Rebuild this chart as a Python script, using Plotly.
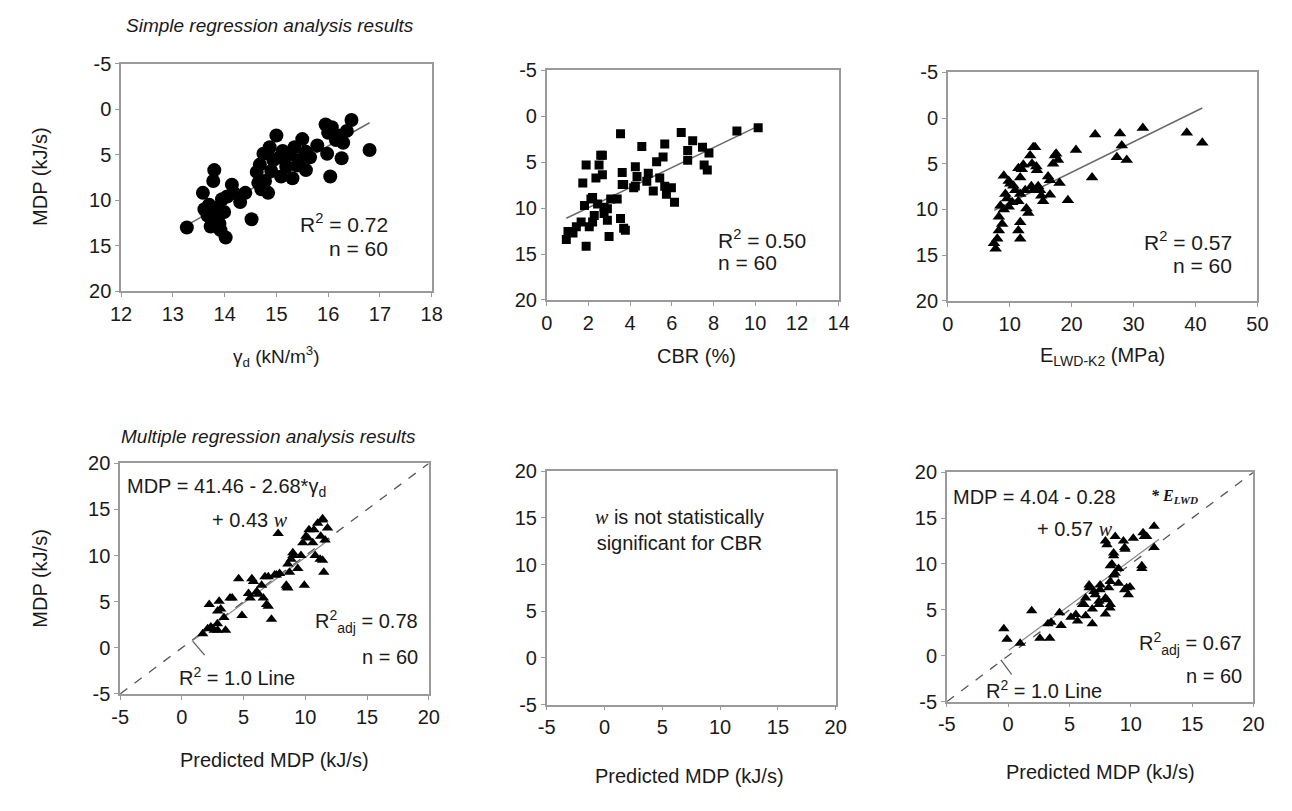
import plotly.graph_objects as go

W, H = 1292, 811

# ---------------- data ----------------
# Top-left: dry unit weight vs MDP
gamma_d = [13.27, 13.58, 13.80, 13.78, 13.61, 13.67, 13.73, 13.86, 14.02, 13.92, 13.99, 13.95, 14.14, 14.18,
           14.30, 14.40, 14.52, 14.62, 14.68, 14.71, 14.84, 14.87, 15.00, 14.94, 15.06, 15.09, 15.19, 15.31,
           15.35, 15.44, 15.50, 15.57, 15.57, 15.79, 15.95, 16.07, 15.98, 16.04, 16.20, 16.29, 16.26, 16.45,
           16.36, 16.80, 14.65, 14.75, 13.70, 13.75, 13.90, 13.85, 14.05, 14.78, 14.90, 15.12, 15.25, 15.40,
           15.65, 16.00, 16.15, 13.80]
mdp_gamma = [13.0, 9.2, 6.7, 7.9, 11.0, 11.7, 12.9, 12.0, 14.1, 13.3, 11.3, 9.9, 8.3, 9.2,
             10.2, 9.2, 12.1, 6.9, 6.1, 8.8, 9.2, 4.2, 2.9, 5.6, 5.3, 7.4, 6.3, 7.6,
             4.2, 5.6, 3.3, 4.7, 6.7, 4.0, 1.7, 2.0, 4.9, 7.4, 2.9, 3.7, 5.4, 1.2,
             2.4, 4.5, 8.1, 4.9, 10.5, 12.3, 12.6, 10.8, 9.6, 7.9, 6.8, 4.6, 5.0, 6.2,
             5.3, 2.6, 3.4, 11.5]
fit_gamma_x = [13.29, 16.80]
fit_gamma_y = [12.7, 1.5]

# Top-middle: CBR vs MDP
cbr = [3.54, 4.56, 5.66, 6.45, 7.00, 7.47, 7.78, 6.76, 7.55, 7.70, 9.12, 10.14, 2.67, 1.89, 2.51,
       2.67, 2.36, 1.73, 3.62, 4.25, 4.33, 3.69, 4.17, 4.87, 4.80, 5.27, 5.58, 5.42, 5.11, 5.66,
       5.98, 5.74, 6.13, 3.07, 3.38, 2.12, 1.81, 2.44, 2.91, 2.75, 2.91, 3.54, 3.69, 2.20, 2.04,
       1.42, 1.26, 0.94, 1.89, 2.99, 2.59, 3.62, 4.25, 2.20, 2.75, 2.28, 3.77, 1.65, 1.02, 6.76]
mdp_cbr = [1.89, 3.29, 3.02, 1.78, 2.66, 3.37, 4.00, 4.78, 5.30, 5.84, 1.60, 1.25, 4.25, 5.30, 5.30,
           6.37, 6.73, 7.26, 6.12, 5.49, 6.55, 7.43, 7.79, 6.20, 7.08, 4.96, 4.43, 6.73, 8.14, 7.61,
           7.79, 8.49, 9.37, 9.01, 9.01, 9.01, 9.72, 9.54, 10.07, 10.60, 11.31, 11.13, 12.19, 11.50, 12.02,
           12.02, 12.72, 13.43, 14.14, 13.08, 4.25, 7.43, 7.60, 8.85, 9.90, 10.80, 12.40, 11.50, 12.55, 3.72]
fit_cbr_x = [0.94, 10.14]
fit_cbr_y = [11.1, 1.07]

# Top-right: E_LWD-K2 vs MDP
elwd = [7.73, 7.46, 7.99, 8.25, 8.78, 9.05, 9.84, 9.57, 9.05, 10.1, 10.9, 11.7, 11.96, 11.4, 11.7,
        11.4, 11.7, 13.0, 12.5, 13.3, 13.6, 14.1, 14.4, 13.8, 14.9, 15.4, 16.5, 16.5, 17.0, 17.5,
        17.8, 18.05, 19.4, 20.7, 23.3, 23.8, 27.8, 28.1, 27.3, 28.9, 31.5, 38.6, 41.1, 9.84, 9.3,
        10.6, 11.4, 12.2, 13.8, 14.3, 13.5, 14.6, 15.1, 17.3, 16.2, 8.5, 10.4, 11.7, 8.25, 12.7]
mdp_elwd = [14.3, 13.7, 13.2, 12.3, 11.6, 10.0, 9.7, 8.8, 6.3, 7.2, 7.9, 6.5, 5.6, 9.1, 11.4,
            12.3, 13.2, 10.4, 7.9, 4.1, 5.0, 3.2, 5.7, 7.9, 7.9, 9.1, 8.4, 6.8, 5.0, 3.9,
            4.6, 7.1, 9.0, 3.5, 6.5, 1.8, 1.7, 3.0, 4.3, 4.6, 1.1, 1.6, 2.7, 6.9, 8.3,
            7.4, 5.5, 5.1, 3.2, 5.3, 7.45, 7.45, 8.5, 4.1, 6.4, 9.6, 9.2, 8.3, 10.8, 9.9]
fit_elwd_x = [7.5, 41.1]
fit_elwd_y = [10.1, -1.1]

# Bottom-left: predicted (gamma_d + w) vs measured MDP
pred_gamma = [1.69, 2.09, 2.22, 3.02, 3.15, 3.41, 3.54, 2.88, 2.62, 4.08, 4.6, 4.87, 5.67, 5.53, 6.07,
              6.46, 6.73, 6.6, 7.0, 7.26, 7.52, 7.92, 8.46, 8.59, 8.72, 8.85, 8.59, 8.99, 9.39, 9.92,
              9.65, 10.05, 10.3, 10.6, 11.0, 11.4, 11.8, 11.6, 10.8, 11.4, 11.5, 7.8, 11.25, 11.4, 10.7,
              10.2, 9.8, 9.0, 11.2, 8.5, 7.66, 7.0, 5.8, 5.4, 6.2, 6.86, 3.9, 2.9, 2.35, 2.9]
meas_gamma = [1.54, 2.07, 4.7, 5.05, 4.2, 3.3, 1.9, 2.6, 1.9, 5.4, 7.5, 3.5, 7.5, 5.4, 6.1,
              6.8, 7.7, 5.4, 4.5, 3.1, 7.9, 8.05, 6.8, 6.5, 8.2, 9.6, 9.1, 10.3, 8.6, 6.8,
              10.0, 12.1, 12.8, 11.4, 13.5, 14.0, 13.0, 11.7, 10.0, 9.5, 8.2, 12.4, 12.1, 13.85, 12.8,
              11.9, 11.4, 10.0, 9.6, 6.6, 7.9, 7.7, 7.2, 5.9, 5.8, 4.7, 5.4, 4.0, 2.25, 1.9]
fit_pg_x = [0.8, 12.0]
fit_pg_y = [0.7, 11.8]

# Bottom-right: predicted (E_LWD + w) vs measured MDP
pred_elwd = [-0.35, -0.09, 0.98, 1.92, 2.59, 3.39, 3.25, 4.19, 4.32, 5.12, 5.66, 6.32, 6.86, 6.6, 6.2,
             7.1, 7.5, 7.4, 8.06, 8.2, 8.3, 7.93, 8.73, 8.6, 8.33, 8.6, 9.0, 9.4, 9.53, 9.66,
             9.93, 9.8, 10.2, 10.9, 11.0, 11.3, 11.9, 11.9, 8.06, 9.5, 11.1, 10.9, 8.6, 8.46, 8.73,
             8.33, 9.0, 9.5, 6.6, 7.0, 7.5, 7.93, 8.33, 7.4, 6.32, 6.06, 6.86, 5.52, 3.5, 7.93]
meas_elwd = [2.94, 1.8, 1.36, 4.9, 1.9, 1.9, 3.5, 4.7, 3.3, 4.2, 3.8, 4.35, 3.5, 7.4, 5.6,
             6.65, 7.7, 5.6, 6.1, 7.4, 5.2, 12.5, 13.0, 11.2, 9.8, 8.8, 9.5, 12.5, 11.6, 7.4,
             7.5, 6.65, 12.8, 9.5, 13.4, 13.0, 14.1, 11.8, 12.1, 11.8, 13.0, 9.8, 10.9, 10.0, 9.0,
             8.1, 7.9, 7.2, 7.7, 7.0, 7.2, 6.3, 5.6, 5.95, 6.3, 5.6, 5.1, 4.5, 3.65, 4.55]
fit_pe_x = [0.05, 12.3]
fit_pe_y = [0.6, 12.7]

one_to_one = [-5, 20]

# tick values
mdp_ticks = [-5, 0, 5, 10, 15, 20]
gamma_ticks = [12, 13, 14, 15, 16, 17, 18]
cbr_ticks = [0, 2, 4, 6, 8, 10, 12, 14]
elwd_ticks = [0, 10, 20, 30, 40, 50]
pred_ticks = [-5, 0, 5, 10, 15, 20]

# ---------------- layout helpers (positions in window pixels) ----------------
FONT = "Liberation Sans"
TXT = "#1a1a1a"


def fx(px):
    return px / W


def fy(py):
    return 1 - py / H


def axis(domain, rng, tickvals, anchor):
    return dict(domain=domain, range=rng, anchor=anchor,
                tickmode="array", tickvals=tickvals, ticktext=[str(v) for v in tickvals],
                showline=True, mirror=True, linecolor="#9a9a9a", linewidth=1.5,
                ticks="outside", ticklen=4, tickcolor="#9a9a9a", tickwidth=1,
                showgrid=False, zeroline=False,
                tickfont=dict(family=FONT, size=20, color=TXT))


fig = go.Figure()

# panel boxes (window pixels: left, right, top, bottom)
boxes = {
    1: (112, 428, 54, 288),
    2: (545, 842, 61, 297),
    3: (953, 1268, 63, 298),
    4: (111, 425, 465, 702),
    5: (545, 839, 473, 713),
    6: (952, 1264, 474, 710),
}
specs = {
    1: ([12, 18], gamma_ticks, [20, -5]),
    2: ([0, 14], cbr_ticks, [20, -5]),
    3: ([0, 50], elwd_ticks, [20, -5]),
    4: ([-5, 20], pred_ticks, [-5, 20]),
    5: ([-5, 20], pred_ticks, [-5, 20]),
    6: ([-5, 20], pred_ticks, [-5, 20]),
}
layout_axes = {}
for i, (l, r, t, b) in boxes.items():
    xr, xt, yr = specs[i]
    xname = "xaxis" if i == 1 else f"xaxis{i}"
    yname = "yaxis" if i == 1 else f"yaxis{i}"
    xa = "x" if i == 1 else f"x{i}"
    ya = "y" if i == 1 else f"y{i}"
    layout_axes[xname] = axis([fx(l), fx(r)], xr, xt, ya)
    layout_axes[yname] = axis([fy(b), fy(t)], yr, mdp_ticks, xa)


def ref(i):
    return ("x" if i == 1 else f"x{i}"), ("y" if i == 1 else f"y{i}")


def scatter(x, y, i, symbol, size):
    xa, ya = ref(i)
    fig.add_trace(go.Scatter(x=x, y=y, mode="markers", xaxis=xa, yaxis=ya, showlegend=False,
                             marker=dict(symbol=symbol, size=size, color="black",
                                         line=dict(width=0))))


def line(x, y, i, dash="solid", color="#6a6a6a", width=1.5):
    xa, ya = ref(i)
    fig.add_trace(go.Scatter(x=x, y=y, mode="lines", xaxis=xa, yaxis=ya, showlegend=False,
                             line=dict(color=color, width=width, dash=dash)))


# top row
line(fit_gamma_x, fit_gamma_y, 1)
scatter(gamma_d, mdp_gamma, 1, "circle", 14)
line(fit_cbr_x, fit_cbr_y, 2)
scatter(cbr, mdp_cbr, 2, "square", 9)
line(fit_elwd_x, fit_elwd_y, 3)
scatter(elwd, mdp_elwd, 3, "triangle-up", 11)

# bottom row
line(one_to_one, one_to_one, 4, dash="dash", color="#555555", width=1.3)
line(fit_pg_x, fit_pg_y, 4, color="#888888", width=1.2)
scatter(pred_gamma, meas_gamma, 4, "triangle-up", 10)
# empty panel (CBR: w not significant) -- an empty trace so the axes are drawn
fig.add_trace(go.Scatter(x=[], y=[], mode="markers", xaxis="x5", yaxis="y5", showlegend=False))
line(one_to_one, one_to_one, 6, dash="dash", color="#555555", width=1.3)
line(fit_pe_x, fit_pe_y, 6, color="#888888", width=1.2)
scatter(pred_elwd, meas_elwd, 6, "triangle-up", 10)

# ---------------- annotations ----------------
ann = []


def text(s, x, y, size=20, xanchor="center", yanchor="middle", angle=0, family=FONT, color=TXT):
    ann.append(dict(text=s, x=fx(x), y=fy(y), xref="paper", yref="paper", showarrow=False,
                    xanchor=xanchor, yanchor=yanchor, textangle=angle,
                    font=dict(family=family, size=size, color=color)))


W_ITAL = "<span style='font-family:Liberation Serif;font-style:italic'>w</span>"

# section titles
text("<i>Simple regression analysis results</i>", 115, 15, size=19, xanchor="left")
text("<i>Multiple regression analysis results</i>", 110, 437, size=19, xanchor="left")

# axis titles
text("MDP (kJ/s)", 30, 170, angle=-90)
text("MDP (kJ/s)", 30, 583, angle=-90)
text("γ<sub>d</sub> (kN/m<sup>3</sup>)", 270, 355, size=19)
text("CBR (%)", 697, 355)
text("E<sub>LWD-K2</sub> (MPa)", 1110, 355)
text("Predicted MDP (kJ/s)", 268, 770)
text("Predicted MDP (kJ/s)", 690, 786)
text("Predicted MDP (kJ/s)", 1108, 782)

# statistics
text("R<sup>2</sup> = 0.72", 386, 218, size=21, xanchor="right")
text("n = 60", 386, 244, size=21, xanchor="right")
text("R<sup>2</sup> = 0.50", 717, 234, size=21, xanchor="left")
text("n = 60", 717, 258, size=21, xanchor="left")
text("R<sup>2</sup> = 0.57", 1244, 236, size=21, xanchor="right")
text("n = 60", 1244, 262, size=21, xanchor="right")

text("MDP = 41.46 - 2.68*γ<sub>d</sub>", 116, 490, size=20, xanchor="left")
text("+ 0.43 " + W_ITAL, 202, 523, size=20, xanchor="left")
text("R<sup>2</sup><sub>adj</sub> = 0.78", 416, 628, size=20, xanchor="right")
text("n = 60", 416, 664, size=20, xanchor="right")
text("R<sup>2</sup> = 1.0 Line", 169, 684, size=20, xanchor="left")

text(W_ITAL + " is not statistically<br>significant for CBR", 680, 533, size=20)

text("MDP = 4.04 - 0.28", 956, 500, size=20, xanchor="left")
text("<span style='font-family:Liberation Serif;font-weight:bold;font-style:italic'>* E<sub>LWD</sub></span>",
     1158, 499, size=16, xanchor="left")
text("+ 0.57 " + W_ITAL, 1042, 532, size=20, xanchor="left")
text("R<sup>2</sup><sub>adj</sub> = 0.67", 1254, 650, size=20, xanchor="right")
text("n = 60", 1254, 684, size=20, xanchor="right")
text("R<sup>2</sup> = 1.0 Line", 990, 697, size=20, xanchor="left")

# leader marks for the 1:1 line labels
shapes = []
for (x0, y0, x1, y1) in [(185, 648, 197, 662), (1007, 667, 1018, 682)]:
    shapes.append(dict(type="line", xref="paper", yref="paper",
                       x0=fx(x0), y0=fy(y0), x1=fx(x1), y1=fy(y1),
                       line=dict(color="#555555", width=1.2)))

fig.update_layout(width=W, height=H, margin=dict(l=0, r=0, t=0, b=0),
                  paper_bgcolor="white", plot_bgcolor="white",
                  annotations=ann, shapes=shapes, showlegend=False,
                  font=dict(family=FONT, color=TXT), **layout_axes)

fig.write_html("out.html")
